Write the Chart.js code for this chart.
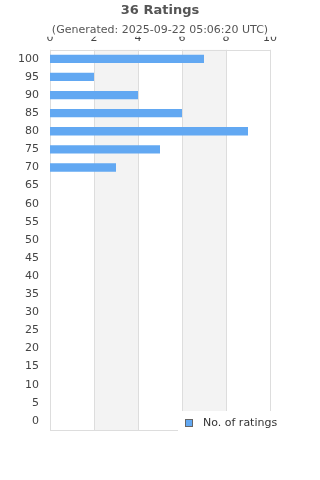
<!DOCTYPE html>
<html>
<head>
<meta charset="utf-8">
<script src="https://cdn.jsdelivr.net/npm/chart.js@4/dist/chart.umd.min.js"></script>
<style>
  html, body { margin: 0; padding: 0; background: #fff; }
  #wrap { width: 320px; height: 480px; }
</style>
</head>
<body>
<div id="wrap"><canvas id="ratingsChart" width="320" height="480"></canvas></div>
<script>
// Rating buckets, top to bottom
const ratingLabels = ['100', '95', '90', '85', '80', '75', '70', '65', '60', '55', '50',
                      '45', '40', '35', '30', '25', '20', '15', '10', '5', '0'];
const ratingCounts = [7, 2, 4, 6, 9, 5, 3, 0, 0, 0, 0, 0, 0, 0, 0, 0, 0, 0, 0, 0, 0];
const countTicks = [0, 2, 4, 6, 8, 10];

const chartTitle = '36 Ratings';
const chartSubtitle = '(Generated: 2025-09-22 05:06:20 UTC)';
const seriesName = 'No. of ratings';

const barColor = '#62a8f2';
const fontFamily = "'DejaVu Sans', sans-serif";

// Alternating bands + frame behind the bars
const bandsPlugin = {
    id: 'bands',
    beforeDatasetsDraw(chart) {
        const { ctx, chartArea } = chart;
        const x = chart.scales.x;
        ctx.save();
        ctx.fillStyle = '#f3f3f3';
        for (let i = 1; i < countTicks.length - 1; i += 2) {
            const x0 = x.getPixelForValue(countTicks[i]);
            const x1 = x.getPixelForValue(countTicks[i + 1]);
            ctx.fillRect(x0, chartArea.top, x1 - x0, chartArea.bottom - chartArea.top);
        }
        ctx.strokeStyle = '#dddddd';
        ctx.lineWidth = 1;
        ctx.beginPath();
        countTicks.forEach(t => {
            const px = Math.round(x.getPixelForValue(t)) + 0.5;
            ctx.moveTo(px, chartArea.top);
            ctx.lineTo(px, chartArea.bottom);
        });
        ctx.moveTo(chartArea.left, Math.round(chartArea.top) + 0.5);
        ctx.lineTo(chartArea.right, Math.round(chartArea.top) + 0.5);
        ctx.moveTo(chartArea.left, Math.round(chartArea.bottom) + 0.5);
        ctx.lineTo(chartArea.right, Math.round(chartArea.bottom) + 0.5);
        ctx.stroke();
        ctx.restore();
    }
};

// Legend box sitting over the lower right corner of the plot
const overlayLegend = {
    id: 'overlayLegend',
    afterDraw(chart) {
        const { ctx, chartArea } = chart;
        const ds = chart.data.datasets[0];
        ctx.save();
        ctx.fillStyle = '#ffffff';
        ctx.fillRect(178, chartArea.bottom - 19, 110, 24);
        ctx.fillStyle = ds.backgroundColor;
        ctx.fillRect(185, chartArea.bottom - 11, 8, 8);
        ctx.strokeStyle = '#666666';
        ctx.lineWidth = 1;
        ctx.strokeRect(185.5, chartArea.bottom - 10.5, 7, 7);
        ctx.fillStyle = '#333333';
        ctx.font = '11px ' + fontFamily;
        ctx.textBaseline = 'middle';
        ctx.fillText(ds.label, 203, chartArea.bottom - 7);
        ctx.restore();
    }
};

new Chart(document.getElementById('ratingsChart'), {
    type: 'bar',
    data: {
        labels: ratingLabels,
        datasets: [{
            label: seriesName,
            data: ratingCounts,
            backgroundColor: barColor,
            borderWidth: 0,
            barPercentage: 0.46,
            categoryPercentage: 1
        }]
    },
    options: {
        indexAxis: 'y',
        responsive: false,
        animation: false,
        layout: { padding: { left: 0, right: 0, top: 0, bottom: 50 } },
        plugins: {
            legend: { display: false },
            tooltip: { enabled: false },
            title: {
                display: true,
                text: chartTitle,
                color: '#555555',
                font: { family: fontFamily, size: 13, weight: 'bold' },
                padding: { top: 3, bottom: 3 }
            },
            subtitle: {
                display: true,
                text: chartSubtitle,
                color: '#555555',
                font: { family: fontFamily, size: 11 },
                padding: { top: 2, bottom: 0 }
            }
        },
        scales: {
            x: {
                position: 'top',
                min: 0,
                max: 10,
                afterFit(scale) { scale.height = 13; },
                afterBuildTicks(scale) { scale.ticks = countTicks.map(v => ({ value: v })); },
                grid: { display: false, drawTicks: false },
                border: { display: false },
                ticks: {
                    padding: 5,
                    color: '#444444',
                    font: { family: fontFamily, size: 11 }
                }
            },
            y: {
                afterFit(scale) { scale.width = 50; },
                grid: { display: false, drawTicks: false },
                border: { display: false },
                ticks: {
                    padding: 11,
                    autoSkip: false,
                    color: '#444444',
                    font: { family: fontFamily, size: 11 }
                }
            },
            // empty right margin so the plot and titles stay centred
            yRight: {
                type: 'category',
                position: 'right',
                afterFit(scale) { scale.width = 50; },
                grid: { display: false, drawTicks: false },
                border: { display: false },
                ticks: { display: false }
            }
        }
    },
    plugins: [bandsPlugin, overlayLegend]
});
</script>
</body>
</html>
